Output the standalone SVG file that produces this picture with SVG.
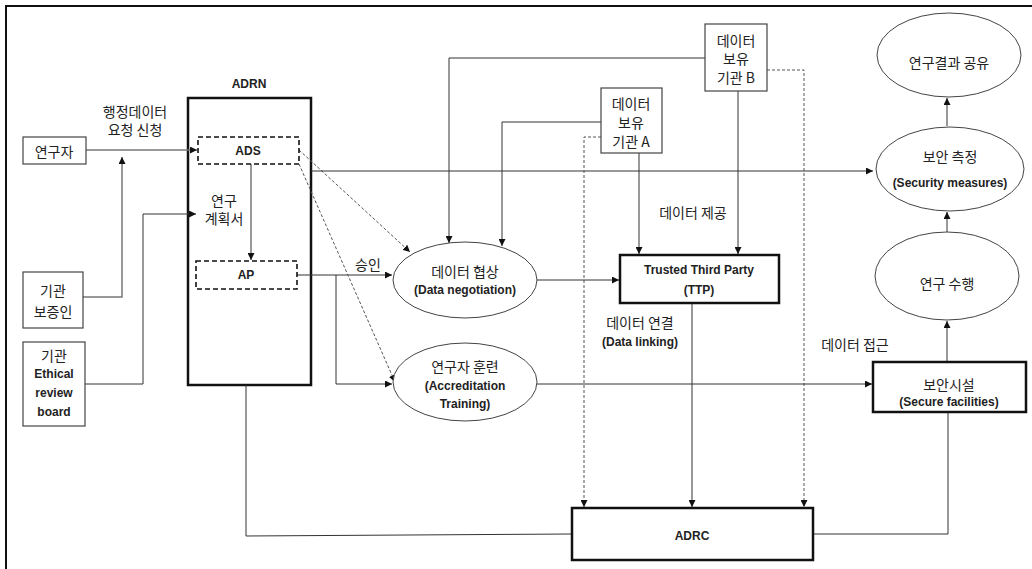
<svg xmlns="http://www.w3.org/2000/svg" width="1032" height="569" viewBox="0 0 1032 569">
<style>
.k{font-family:"Noto Sans CJK KR","Noto Sans",sans-serif;font-size:14px;fill:#222;text-anchor:middle;dominant-baseline:central}
.e{font-family:"Liberation Sans","Noto Sans CJK KR",sans-serif;font-size:12px;font-weight:bold;fill:#222;text-anchor:middle;dominant-baseline:central}
.box{fill:#fff;stroke:#444;stroke-width:1.2}
.thick{fill:#fff;stroke:#111;stroke-width:2.5}
.dbox{fill:none;stroke:#111;stroke-width:1.6;stroke-dasharray:5,3}
.ell{fill:#fff;stroke:#444;stroke-width:1}
.c{fill:none;stroke:#333;stroke-width:1;marker-end:url(#ah)}
.cn{fill:none;stroke:#333;stroke-width:1}
.cd{fill:none;stroke:#555;stroke-width:1;stroke-dasharray:3,2;marker-end:url(#ah)}
.cg{fill:none;stroke:#777;stroke-width:1.5;marker-end:url(#ah)}
</style>
<defs>
<marker id="ah" viewBox="0 0 10 10" refX="10" refY="5" markerWidth="7" markerHeight="7" markerUnits="userSpaceOnUse" orient="auto">
<path d="M0,0 L10,5 L0,10 z" fill="#111"/>
</marker>
</defs>
<rect width="1032" height="569" fill="#fff"/>
<path d="M6,569 V6 H1032" fill="none" stroke="#111" stroke-width="2"/>

<g id="adrn"><text class="e" x="249" y="84">ADRN</text><rect class="thick" x="188" y="98" width="123" height="287"/></g>

<g id="connectors">
<path class="cg" d="M86,150 H197"/>
<path class="cg" d="M83,297 H122 V157"/>
<path class="c" d="M85,384 H143 V214 H196"/>
<path class="c" d="M251,164 V260"/>
<path class="c" d="M297,275 H392"/>
<path class="c" d="M336,275 V384 H392"/>
<path class="cd" d="M299,150 L410,252"/>
<path class="cd" d="M299,164 L395,382"/>
<path class="c" d="M311,171 H873"/>
<path class="c" d="M705,58 H449 V243"/>
<path class="c" d="M601,122 H502 V246"/>
<path class="c" d="M639,153 V254"/>
<path class="c" d="M738,91 V254"/>
<path class="cd" d="M601,137 H584 V507"/>
<path class="cd" d="M767,70 H804 V507"/>
<path class="c" d="M537,280 H619"/>
<path class="c" d="M692,303 V507"/>
<path class="c" d="M537,384 H872"/>
<path class="c" d="M947,362 V321"/>
<path class="c" d="M947,232 V212"/>
<path class="c" d="M947,126 V98"/>
<path class="cn" d="M246,385 V536 L572,534"/>
<path class="cn" d="M948,412 V534 H813"/>
</g>

<g id="researcher"><rect class="box" x="23" y="137" width="63" height="27"/><text class="k" x="54" y="151">연구자</text></g>
<g id="guarantor"><rect class="box" x="23" y="272" width="60" height="56"/><text class="k" x="53" y="290">기관</text><text class="k" x="53" y="311">보증인</text></g>
<g id="ethics"><rect class="box" x="23" y="342" width="62" height="84"/><text class="k" x="54" y="355">기관</text><text class="e" x="54" y="374" font-size="13">Ethical</text><text class="e" x="54" y="393" font-size="13">review</text><text class="e" x="54" y="412" font-size="13">board</text></g>
<g id="request-label"><text class="k" x="135" y="111">행정데이터</text><text class="k" x="135" y="129">요청 신청</text></g>

<g id="ads"><rect class="dbox" x="198" y="137" width="101" height="27"/><text class="e" x="248" y="151" font-size="13">ADS</text></g>
<g id="plan-label"><text class="k" x="224" y="200">연구</text><text class="k" x="224" y="218">계획서</text></g>
<g id="ap"><rect class="dbox" x="196" y="261" width="101" height="28"/><text class="e" x="246" y="275" font-size="13">AP</text></g>
<g id="approve-label"><text class="k" x="368" y="264">승인</text></g>

<g id="negotiation"><ellipse class="ell" cx="465" cy="280" rx="72" ry="38"/><text class="k" x="465" y="271">데이터 협상</text><text class="e" x="465" y="290">(Data negotiation)</text></g>
<g id="training"><ellipse class="ell" cx="465" cy="382" rx="72" ry="39"/><text class="k" x="465" y="366">연구자 훈련</text><text class="e" x="465" y="386">(Accreditation</text><text class="e" x="465" y="404">Training)</text></g>

<g id="holder-a"><rect class="box" x="601" y="88" width="61" height="65"/><text class="k" x="631" y="103">데이터</text><text class="k" x="631" y="122">보유</text><text class="k" x="631" y="141">기관 A</text></g>
<g id="holder-b"><rect class="box" x="705" y="24" width="62" height="67"/><text class="k" x="736" y="40">데이터</text><text class="k" x="736" y="58">보유</text><text class="k" x="736" y="77">기관 B</text></g>
<g id="provide-label"><text class="k" x="693" y="212">데이터 제공</text></g>

<g id="ttp"><rect class="thick" x="620" y="255" width="159" height="48"/><text class="e" x="699" y="270" font-size="12.5">Trusted Third Party</text><text class="e" x="699" y="290" font-size="12.5">(TTP)</text></g>
<g id="linking-label"><text class="k" x="640" y="322">데이터 연결</text><text class="e" x="640" y="342">(Data linking)</text></g>
<g id="access-label"><text class="k" x="855" y="344">데이터 접근</text></g>

<g id="share"><ellipse class="ell" cx="949" cy="55" rx="72" ry="42"/><text class="k" x="949" y="62">연구결과 공유</text></g>
<g id="security"><ellipse class="ell" cx="950" cy="169" rx="74" ry="42"/><text class="k" x="950" y="156">보안 측정</text><text class="e" x="950" y="183">(Security measures)</text></g>
<g id="research"><ellipse class="ell" cx="947" cy="276" rx="72" ry="44"/><text class="k" x="947" y="283">연구 수행</text></g>
<g id="facilities"><rect class="thick" x="873" y="362" width="153" height="50"/><text class="k" x="949" y="384">보안시설</text><text class="e" x="949" y="402">(Secure facilities)</text></g>

<g id="adrc"><rect class="thick" x="572" y="508" width="241" height="52"/><text class="e" x="692" y="536" font-size="13">ADRC</text></g>
</svg>
